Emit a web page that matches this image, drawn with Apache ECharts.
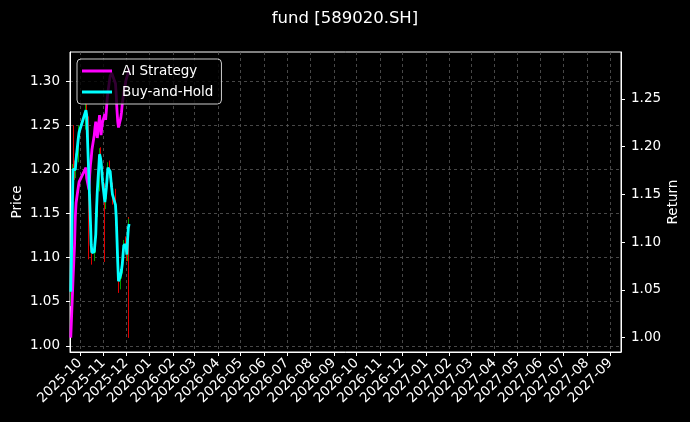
<!DOCTYPE html>
<html>
<head>
<meta charset="utf-8">
<script src="https://cdn.jsdelivr.net/npm/echarts@6/dist/echarts.min.js"></script>
<style>
  html, body { margin: 0; padding: 0; background: #000; }
  #chart { width: 690px; height: 422px; }
</style>
</head>
<body>
<div id="chart"></div>
<script>
// trading days shown in the picture
const dates = [
  '2025-09-19', '2025-09-22', '2025-09-23', '2025-09-24', '2025-09-25', '2025-09-26', '2025-09-29', '2025-09-30',
  '2025-10-09', '2025-10-10', '2025-10-13', '2025-10-14', '2025-10-15', '2025-10-16', '2025-10-17',
  '2025-10-20', '2025-10-21', '2025-10-22', '2025-10-23', '2025-10-24',
  '2025-10-27', '2025-10-28', '2025-10-29', '2025-10-30', '2025-10-31',
  '2025-11-03', '2025-11-04', '2025-11-05', '2025-11-06', '2025-11-07',
  '2025-11-10', '2025-11-11', '2025-11-12', '2025-11-13', '2025-11-14',
  '2025-11-17', '2025-11-18', '2025-11-19', '2025-11-20', '2025-11-21',
  '2025-11-24', '2025-11-25', '2025-11-26', '2025-11-27', '2025-11-28',
  '2025-12-01', '2025-12-02', '2025-12-03', '2025-12-04', '2025-12-05'
];

// price candles (left axis)
const open = [
  1.050, 1.065, 1.205, 1.198, 1.196, 1.200, 1.213, 1.238, 1.250, 1.268,
  1.255, 1.185, 1.168, 1.138, 1.112, 1.103, 1.108, 1.110, 1.128, 1.152,
  1.180, 1.218, 1.212, 1.206, 1.195, 1.180, 1.160, 1.172, 1.180, 1.192,
  1.205, 1.196, 1.186, 1.180, 1.170, 1.166, 1.158, 1.142, 1.118, 1.092,
  1.070, 1.082, 1.088, 1.095, 1.105, 1.118, 1.112, 1.102, 1.142, 1.132
];
const close = [
  1.061, 1.199, 1.200, 1.197, 1.199, 1.211, 1.236, 1.242, 1.267, 1.262,
  1.188, 1.165, 1.140, 1.114, 1.105, 1.106, 1.109, 1.126, 1.154, 1.174,
  1.217, 1.214, 1.208, 1.197, 1.186, 1.163, 1.170, 1.179, 1.190, 1.202,
  1.197, 1.188, 1.179, 1.171, 1.169, 1.160, 1.145, 1.120, 1.095, 1.072,
  1.080, 1.086, 1.093, 1.103, 1.114, 1.114, 1.103, 1.120, 1.134, 1.138
];
const low = [
  1.045, 1.060, 1.192, 1.188, 1.190, 1.195, 1.208, 1.230, 1.245, 1.255,
  1.098, 1.158, 1.132, 1.106, 1.092, 1.096, 1.100, 1.105, 1.122, 1.146,
  1.175, 1.206, 1.200, 1.190, 1.178, 1.095, 1.155, 1.166, 1.175, 1.186,
  1.190, 1.180, 1.172, 1.164, 1.160, 1.152, 1.136, 1.112, 1.086, 1.060,
  1.064, 1.076, 1.082, 1.090, 1.100, 1.106, 1.096, 1.096, 1.009, 1.126
];
const high = [
  1.068, 1.206, 1.250, 1.210, 1.206, 1.218, 1.242, 1.250, 1.275, 1.274,
  1.260, 1.192, 1.172, 1.142, 1.118, 1.112, 1.115, 1.132, 1.160, 1.180,
  1.224, 1.225, 1.218, 1.210, 1.200, 1.184, 1.176, 1.186, 1.196, 1.208,
  1.210, 1.200, 1.190, 1.185, 1.176, 1.170, 1.178, 1.146, 1.122, 1.096,
  1.086, 1.092, 1.100, 1.110, 1.120, 1.124, 1.118, 1.126, 1.146, 1.144
];

// cumulative returns (right axis)
const aiStrategy = [
  1.000, 1.061, 1.079, 1.097, 1.126, 1.141, 1.158, 1.163, 1.178, 1.167,
  1.155, 1.170, 1.181, 1.188, 1.197, 1.212, 1.220, 1.226, 1.218, 1.209,
  1.233, 1.223, 1.212, 1.220, 1.226, 1.234, 1.228, 1.238, 1.249, 1.257,
  1.274, 1.276, 1.277, 1.278, 1.275, 1.266, 1.254, 1.238, 1.226, 1.220,
  1.230, 1.236, 1.245, 1.251, 1.257, 1.270, 1.272, 1.275, 1.278, 1.282
];
const buyHold = [
  1.048, 1.176, 1.177, 1.174, 1.176, 1.186, 1.209, 1.215, 1.238, 1.233,
  1.165, 1.144, 1.121, 1.097, 1.089, 1.090, 1.092, 1.108, 1.134, 1.153,
  1.192, 1.189, 1.184, 1.174, 1.163, 1.142, 1.149, 1.157, 1.167, 1.178,
  1.174, 1.165, 1.157, 1.150, 1.148, 1.139, 1.126, 1.103, 1.079, 1.059,
  1.066, 1.071, 1.077, 1.087, 1.097, 1.097, 1.087, 1.103, 1.115, 1.119
];

// tick labels
const monthTicks = [
  '2025-10', '2025-11', '2025-12', '2026-01', '2026-02', '2026-03', '2026-04', '2026-05',
  '2026-06', '2026-07', '2026-08', '2026-09', '2026-10', '2026-11', '2026-12',
  '2027-01', '2027-02', '2027-03', '2027-04', '2027-05', '2027-06', '2027-07', '2027-08', '2027-09'
];
const priceTicks = [1.00, 1.05, 1.10, 1.15, 1.20, 1.25, 1.30];
const returnTicks = [1.00, 1.05, 1.10, 1.15, 1.20, 1.25];

function toTime(s) {
  let p = s.split('-').map(Number);
  return new Date(p[0], p[1] - 1, p[2] || 1).getTime();
}

const monthValues = monthTicks.map(toTime);
const FONT = 'DejaVu Sans';
const white = '#ffffff';
const gridLine = { show: true, lineStyle: { color: '#5a5a5a', type: [3, 3], width: 0.8 } };

let chart = echarts.init(document.getElementById('chart'));

let option = {
  backgroundColor: '#000000',
  animation: false,
  textStyle: { fontFamily: FONT },
  title: {
    text: 'fund [589020.SH]',
    left: 'center',
    top: 5,
    textStyle: { color: white, fontSize: 16.5, fontWeight: 'normal', fontFamily: FONT }
  },
  legend: {
    data: ['AI Strategy', 'Buy-and-Hold'],
    orient: 'vertical',
    left: 77,
    top: 59,
    padding: [5, 8, 5, 5],
    itemGap: 7,
    itemWidth: 30,
    itemHeight: 3,
    icon: 'rect',
    backgroundColor: 'rgba(0,0,0,0.8)',
    borderColor: '#cccccc',
    borderWidth: 1,
    borderRadius: 4,
    textStyle: { color: white, fontSize: 13.5, fontFamily: FONT, lineHeight: 14, padding: [0, 0, 0, 5] }
  },
  grid: {
    left: 70, right: 69, top: 52, bottom: 70,
    containLabel: false,
    outerBoundsMode: 'none',
    show: true, borderColor: white, borderWidth: 1, backgroundColor: 'transparent'
  },
  xAxis: {
    // dates as millisecond values, month starts as custom ticks
    type: 'value',
    min: toTime('2025-09-18'),
    max: toTime('2027-09-15'),
    axisLine: { lineStyle: { color: white } },
    axisTick: { show: true, length: 4, lineStyle: { color: white }, customValues: monthValues },
    axisLabel: {
      customValues: monthValues,
      rotate: 45,
      margin: 9,
      color: white,
      fontSize: 13.5,
      fontFamily: FONT,
      formatter: function (v) {
        let d = new Date(v);
        return d.getFullYear() + '-' + String(d.getMonth() + 1).padStart(2, '0');
      }
    },
    splitLine: gridLine
  },
  yAxis: [
    {
      type: 'value',
      position: 'left',
      min: 0.993,
      max: 1.333,
      name: 'Price',
      nameLocation: 'middle',
      nameRotate: 90,
      nameGap: 46,
      nameMoveOverlap: false,
      nameTextStyle: { color: white, fontSize: 13.5, fontFamily: FONT },
      axisLine: { show: true, lineStyle: { color: white } },
      axisTick: { show: true, length: 4, lineStyle: { color: white }, customValues: priceTicks },
      axisLabel: {
        customValues: priceTicks, color: white, fontSize: 13.5, fontFamily: FONT, margin: 10,
        formatter: v => v.toFixed(2)
      },
      splitLine: gridLine
    },
    {
      type: 'value',
      position: 'right',
      min: 0.985,
      max: 1.299,
      name: 'Return',
      nameLocation: 'middle',
      nameRotate: 90,
      nameGap: 45,
      nameMoveOverlap: false,
      nameTextStyle: { color: white, fontSize: 13.5, fontFamily: FONT },
      axisLine: { show: true, lineStyle: { color: white } },
      axisTick: { show: true, length: 4, lineStyle: { color: white }, customValues: returnTicks },
      axisLabel: {
        customValues: returnTicks, color: white, fontSize: 13.5, fontFamily: FONT, margin: 10,
        formatter: v => v.toFixed(2)
      },
      splitLine: { show: false }
    }
  ],
  series: [
    {
      name: 'Price',
      type: 'candlestick',
      yAxisIndex: 0,
      barWidth: 1,
      data: dates.map((d, i) => [toTime(d), open[i], close[i], low[i], high[i]]),
      itemStyle: {
        color: '#00a000', color0: '#e00000',
        borderColor: '#00a000', borderColor0: '#e00000', borderWidth: 1
      }
    },
    {
      name: 'AI Strategy',
      type: 'line',
      yAxisIndex: 1,
      showSymbol: false,
      data: dates.map((d, i) => [toTime(d), aiStrategy[i]]),
      lineStyle: { color: '#ff00ff', width: 2.8 },
      itemStyle: { color: '#ff00ff' }
    },
    {
      name: 'Buy-and-Hold',
      type: 'line',
      yAxisIndex: 1,
      showSymbol: false,
      data: dates.map((d, i) => [toTime(d), buyHold[i]]),
      lineStyle: { color: '#00ffff', width: 2.8 },
      itemStyle: { color: '#00ffff' }
    }
  ]
};

chart.setOption(option);
</script>
</body>
</html>
